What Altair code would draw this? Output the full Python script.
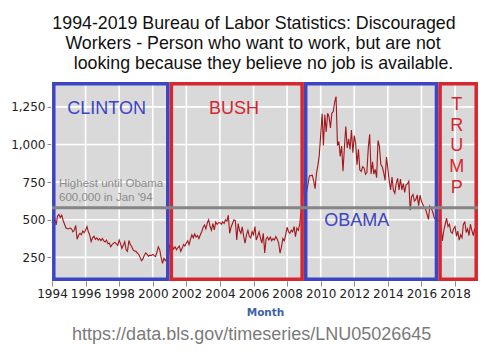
import altair as alt
import pandas as pd

# Discouraged workers, thousands, monthly
v1994 = [480, 505, 510, 465, 525, 535, 515, 530, 495, 470, 445, 440]
v1995 = [440, 445, 440, 420, 430, 462, 370, 395, 410, 400, 425, 415]
v1996 = [430, 455, 420, 398, 355, 380, 390, 370, 380, 365, 375, 360]
v1997 = [375, 360, 352, 365, 340, 345, 320, 335, 345, 350, 340, 330]
v1998 = [365, 340, 310, 330, 355, 300, 290, 362, 335, 320, 300, 292]
v1999 = [290, 278, 270, 250, 228, 240, 262, 280, 270, 258, 265, 262]
v2000 = [270, 262, 255, 285, 320, 300, 250, 210, 245, 228, 238, 232]
v2001 = [330, 345, 325, 305, 320, 300, 315, 325, 290, 310, 335, 325]
v2002 = [345, 360, 335, 370, 400, 380, 405, 385, 395, 375, 400, 420]
v2003 = [450, 465, 440, 478, 500, 455, 430, 475, 432, 485, 470, 480]
v2004 = [480, 470, 487, 475, 500, 490, 530, 410, 452, 475, 500, 495]
v2005 = [365, 475, 430, 410, 453, 388, 345, 400, 430, 390, 380, 420]
v2006 = [400, 455, 365, 390, 420, 380, 345, 410, 280, 370, 385, 365]
v2007 = [385, 360, 375, 365, 388, 370, 345, 278, 320, 375, 360, 400]
v2008 = [450, 420, 410, 430, 420, 455, 388, 445, 430, 470, 560, 642]
v2009 = [734, 731, 685, 740, 792, 793, 796, 758, 706, 808, 861, 929]
v2010 = [1065, 1204, 994, 1197, 1083, 1207, 1185, 1110, 1209, 1219, 1282, 1318]
v2011 = [993, 1020, 921, 989, 822, 982, 1119, 977, 1037, 967, 1096, 945]
v2012 = [1059, 1006, 865, 968, 830, 821, 852, 844, 802, 813, 979, 1068]
v2013 = [804, 885, 803, 835, 780, 1027, 988, 866, 852, 815, 762, 917]
v2014 = [837, 755, 698, 783, 697, 676, 741, 775, 698, 770, 698, 740]
v2015 = [682, 732, 738, 756, 563, 653, 668, 624, 635, 665, 594, 663]
v2016 = [623, 599, 585, 568, 538, 502, 591, 576, 553, 517, 500, 480]
v2017 = [490, 500, 455, 360, 430, 470, 510, 455, 470, 420, 410, 440]
v2018 = [455, 390, 425, 365, 400, 380, 470, 485, 415, 440, 395, 470]
v2019 = [430, 395, 440, 410]

values = (v1994 + v1995 + v1996 + v1997 + v1998 + v1999 + v2000 + v2001 + v2002
          + v2003 + v2004 + v2005 + v2006 + v2007 + v2008 + v2009 + v2010 + v2011
          + v2012 + v2013 + v2014 + v2015 + v2016 + v2017 + v2018 + v2019)
dates = pd.date_range("1994-01-01", periods=len(values), freq="MS")
df = pd.DataFrame({"date": dates, "value": values})

# Presidential terms
term_names = ["CLINTON", "BUSH", "OBAMA", "TRUMP"]
term_start = ["1994-01-01", "2001-01-01", "2009-01-01", "2017-01-01"]
term_end = ["2001-01-01", "2009-01-01", "2017-01-01", "2019-05-15"]
term_color = ["#3d46c2", "#d6262f", "#3d46c2", "#d6262f"]

reference_level = [580]
y_ticks = [250, 500, 750, 1000, 1250]
x_tick_years = list(range(1994, 2019, 2))

Y_MIN, Y_MAX = 93, 1415
terms = pd.DataFrame({
    "name": term_names,
    "start": pd.to_datetime(term_start),
    "end": pd.to_datetime(term_end),
    "color": term_color,
    "top": [Y_MAX] * 4,
    "bottom": [Y_MIN] * 4,
})
ygrid = pd.DataFrame({"v": y_ticks})
xgrid = pd.DataFrame({"d": pd.to_datetime([f"{y}-01-01" for y in x_tick_years])})

xscale = alt.Scale(domain=[alt.DateTime(year=1994, month=1, date=1),
                           alt.DateTime(year=2019, month=5, date=15)], nice=False)
yscale = alt.Scale(domain=[Y_MIN, Y_MAX], nice=False, zero=False)

xaxis = alt.Axis(values=[alt.DateTime(year=y, month=1, date=1) for y in x_tick_years],
                 format="%Y", title="Month", labelFlush=False, labelOverlap=False,
                 grid=False, titleColor="#3f5fae", titleFontSize=10.5, titleFontWeight="bold",
                 titleFont="DejaVu Sans", titlePadding=8)
yaxis = alt.Axis(values=y_ticks, format=",.0f", title="", grid=False)

BLUE = "#3d46c2"
RED = "#d6262f"

grid_y = alt.Chart(ygrid).mark_rule(color="#ffffff", strokeWidth=1.6, opacity=1).encode(
    y=alt.Y("v:Q", scale=yscale, axis=yaxis, title=""))
grid_x = alt.Chart(xgrid).mark_rule(color="#ffffff", strokeWidth=1.6, opacity=1).encode(
    x=alt.X("d:T", scale=xscale, axis=xaxis, title="Month"))

line = alt.Chart(df).mark_line(color="#a3161a", strokeWidth=1.1).encode(
    x=alt.X("date:T", scale=xscale, axis=xaxis, title="Month"),
    y=alt.Y("value:Q", scale=yscale, axis=yaxis, title=""),
)

boxes = alt.Chart(terms).mark_rect(
    fillOpacity=0, strokeWidth=3.5, xOffset=1.8, x2Offset=-1.8, yOffset=1.8, y2Offset=-1.8
).encode(
    x=alt.X("start:T", scale=xscale, axis=xaxis, title="Month"),
    x2="end:T",
    y=alt.Y("top:Q", scale=yscale, axis=yaxis, title=""),
    y2="bottom:Q",
    stroke=alt.Stroke("color:N", scale=None),
)

rule = alt.Chart(pd.DataFrame({"level": reference_level})).mark_rule(
    color="#858585", strokeWidth=3
).encode(y=alt.Y("level:Q", scale=yscale, axis=yaxis, title=""))

one = pd.DataFrame({"k": [0]})


def label(text, x, y, size, color, align="center", font="Liberation Sans", line_height=None):
    kw = dict(text=text, align=align, baseline="alphabetic", fontSize=size,
              color=color, font=font)
    if line_height is not None:
        kw["lineHeight"] = line_height
    return alt.Chart(one).mark_text(**kw).encode(x=alt.value(x), y=alt.value(y))


texts = [
    label("1994-2019 Bureau of Labor Statistics: Discouraged", 202, -53, 17.8, "#111111"),
    label("Workers - Person who want to work, but are not", 201, -32.7, 17.8, "#111111"),
    label("looking because they believe no job is available.", 211.5, -13, 17.8, "#111111"),
    label("https://data.bls.gov/timeseries/LNU05026645", 199.7, 258, 18, "#7a7a7a"),
    label(["Highest until Obama", "600,000 in Jan '94"], 7, 105.3, 11.5, "#8a8a8a",
          align="left", line_height=13.4),
    label("CLINTON", 54.7, 32, 18, BLUE),
    label("BUSH", 182, 32, 18, RED),
    label("OBAMA", 304.7, 144, 18, BLUE),
    label(["T", "R", "U", "M", "P"], 404.7, 28.2, 18, RED, line_height=20.6),
]

chart = alt.layer(grid_y, grid_x, line, boxes, rule, *texts).properties(
    width=426, height=199,
    autosize=alt.AutoSizeParams(type="none"),
    padding={"left": 52, "top": 82, "right": 22, "bottom": 72},
    background="white",
).configure_view(
    fill="#d9d9d9", stroke=None
).configure_axis(
    labelFont="DejaVu Sans", labelFontSize=12, labelColor="#222222",
    tickColor="#888888", tickSize=5, domain=False, labelPadding=2,
)

chart.save("out.html", embed_options={"renderer": "svg", "actions": False})
